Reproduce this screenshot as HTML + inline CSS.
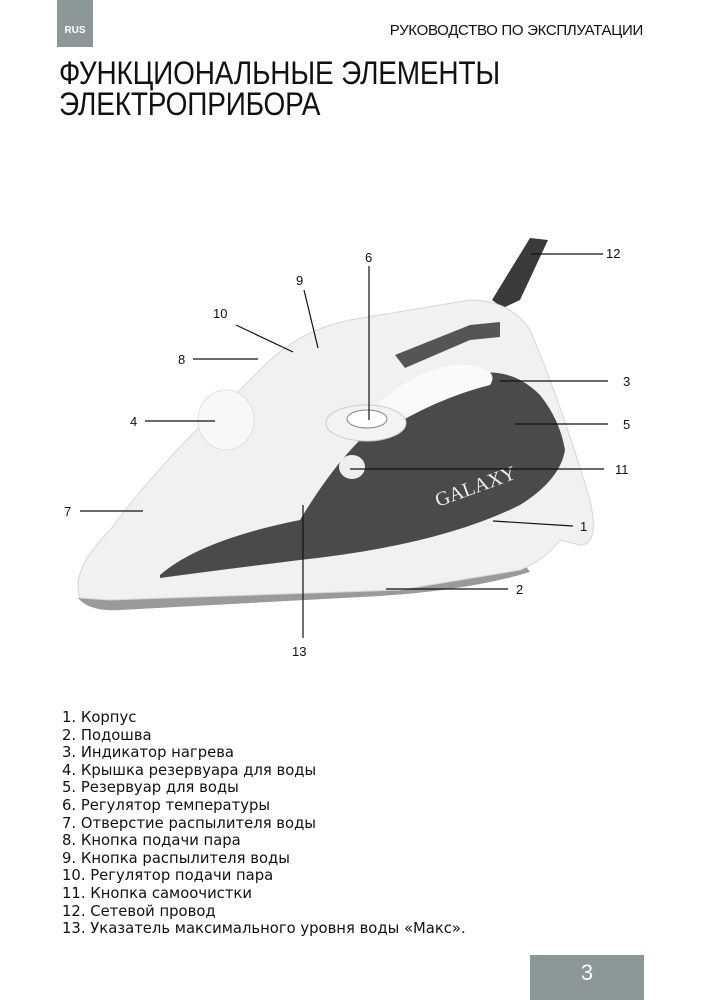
<!DOCTYPE html>
<html><head><meta charset="utf-8"><style>
body{margin:0;width:705px;height:1000px;background:#fff;position:relative;overflow:hidden;font-family:"Liberation Sans","DejaVu Sans",sans-serif;color:#111}
.tab{position:absolute;left:57px;top:0;width:36px;height:47px;background:#8c9898;color:#fff;font-size:10px;font-weight:bold;text-align:center;line-height:62px}
.hdr{position:absolute;right:62px;top:22px;font-size:15px;letter-spacing:-0.3px}
.title{position:absolute;left:59px;top:58px;font-size:32px;line-height:31px;letter-spacing:-0.2px;transform:scaleX(0.875);transform-origin:0 0;white-space:nowrap}
.list{position:absolute;left:62px;top:709px;font-family:"DejaVu Sans",sans-serif;font-size:14.8px;line-height:17.6px}
.pg{position:absolute;left:530px;top:955px;width:114px;height:45px;background:#8c9898;color:#fff;font-size:22px;text-align:center;line-height:36px}
svg{position:absolute;left:0;top:0}
</style></head><body>
<div class="tab">RUS</div>
<div class="hdr">РУКОВОДСТВО ПО ЭКСПЛУАТАЦИИ</div>
<div class="title">ФУНКЦИОНАЛЬНЫЕ ЭЛЕМЕНТЫ<br>ЭЛЕКТРОПРИБОРА</div>
<svg width="705" height="1000">
<!-- cord -->
<path d="M530 238 L548 240 L520 300 L503 308 L492 300 Z" fill="#3a3a3a"/>
<!-- soleplate -->
<path d="M78 598 Q90 612 120 610 L380 596 Q470 590 530 572 L525 565 L110 590 Z" fill="#9a9a9a"/>
<!-- body -->
<path d="M80 598 Q70 570 110 530 Q170 450 240 390 L265 365 Q300 330 350 320 L470 300 Q510 300 530 330 Q560 400 590 500 Q600 545 580 545 L560 540 Q545 560 520 570 L400 590 L110 600 Z" fill="#f1f1f1" stroke="#d6d6d6"/>
<!-- dark panel -->
<path d="M160 575 Q200 540 300 520 Q330 470 360 440 Q420 400 470 375 Q510 365 540 395 Q560 420 565 450 Q560 480 520 505 Q440 545 300 560 Q220 570 160 578 Z" fill="#4a4a4a"/>
<!-- handle hole -->
<path d="M360 420 Q420 360 470 365 Q500 370 490 385 Q430 400 370 440 Z" fill="#fafafa"/>
<!-- handle dark strip -->
<path d="M395 355 L470 325 L500 322 L500 337 L470 340 L405 368 Z" fill="#555"/>
<!-- dial -->
<ellipse cx="366" cy="423" rx="40" ry="18" fill="#f3f3f3" stroke="#ccc"/>
<ellipse cx="367" cy="419" rx="20" ry="9" fill="#fff" stroke="#888"/>
<ellipse cx="352" cy="467" rx="13" ry="12" fill="#eee"/>
<ellipse cx="226" cy="420" rx="28" ry="30" fill="#f8f8f8" stroke="#e0e0e0"/>
<text x="438" y="507" fill="#eee" font-family="Liberation Serif,serif" font-size="20" transform="rotate(-20 438 507)">GALAXY</text>
<g stroke="#111" stroke-width="1.2">
<line x1="531" y1="254" x2="603" y2="254"/>
<line x1="369" y1="266" x2="369" y2="420"/>
<line x1="304" y1="290" x2="318" y2="348"/>
<line x1="236" y1="325" x2="293" y2="352"/>
<line x1="193" y1="359" x2="258" y2="359"/>
<line x1="145" y1="421" x2="215" y2="421"/>
<line x1="80" y1="511" x2="143" y2="511"/>
<line x1="500" y1="381" x2="608" y2="381"/>
<line x1="515" y1="424" x2="608" y2="424"/>
<line x1="350" y1="469" x2="604" y2="469"/>
<line x1="493" y1="521" x2="573" y2="526"/>
<line x1="386" y1="589" x2="508" y2="589"/>
<line x1="303" y1="505" x2="303" y2="638"/>
</g>
<g font-size="13" fill="#111">
<text x="606" y="258">12</text><text x="365" y="262">6</text><text x="296" y="285">9</text>
<text x="213" y="318">10</text><text x="178" y="364">8</text><text x="130" y="426">4</text>
<text x="64" y="516">7</text><text x="623" y="386">3</text><text x="623" y="429">5</text>
<text x="615" y="474">11</text><text x="580" y="531">1</text><text x="516" y="594">2</text>
<text x="292" y="656">13</text>
</g>
</svg>
<div class="list">1. Корпус<br>2. Подошва<br>3. Индикатор нагрева<br>4. Крышка резервуара для воды<br>5. Резервуар для воды<br>6. Регулятор температуры<br>7. Отверстие распылителя воды<br>8. Кнопка подачи пара<br>9. Кнопка распылителя воды<br>10. Регулятор подачи пара<br>11. Кнопка самоочистки<br>12. Сетевой провод<br>13. Указатель максимального уровня воды «Макс».</div>
<div class="pg">3</div>
</body></html>
